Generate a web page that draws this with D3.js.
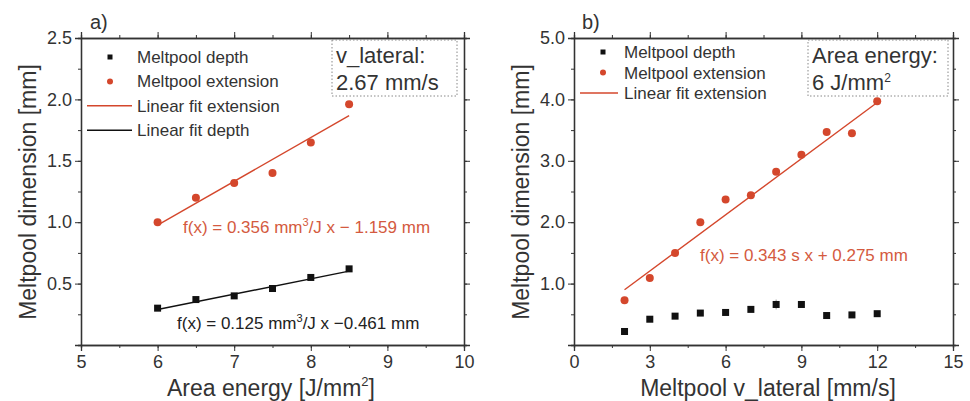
<!DOCTYPE html>
<html lang="en">
<head>
<meta charset="utf-8">
<title>Meltpool dimensions</title>
<script src="https://cdn.jsdelivr.net/npm/d3@7"></script>
<style>
  body { margin: 0; background: #fff; }
  text { font-family: Arial, "Liberation Sans", sans-serif; fill: #333; }
</style>
</head>
<body>
<div id="chart"></div>
<script>
// panel a) area energy sweep
var energyX = [6, 6.5, 7, 7.5, 8, 8.5];
var energyDepth = [0.30, 0.37, 0.40, 0.46, 0.55, 0.62];
var energyExt = [1.00, 1.20, 1.32, 1.40, 1.65, 1.96];
var energyFitExtX = [6, 8.5], energyFitExtY = [0.977, 1.867];
var energyFitDepthX = [6, 8.5], energyFitDepthY = [0.289, 0.602];
var energyXTicks = [5, 6, 7, 8, 9, 10];
var energyYTicks = ["0.5", "1.0", "1.5", "2.0", "2.5"];

// panel b) v_lateral sweep
var speedX = [2, 3, 4, 5, 6, 7, 8, 9, 10, 11, 12];
var speedDepth = [0.22, 0.42, 0.47, 0.52, 0.53, 0.58, 0.66, 0.66, 0.48, 0.49, 0.51];
var speedDepthErr = [0, 0, 0, 0, 0, 0, 0.08, 0, 0, 0, 0];
var speedExt = [0.73, 1.09, 1.50, 2.00, 2.37, 2.44, 2.82, 3.10, 3.47, 3.45, 3.97];
var speedFitExtX = [2, 12], speedFitExtY = [0.90, 3.95];
var speedXTicks = [0, 3, 6, 9, 12, 15];
var speedYTicks = ["1.0", "2.0", "3.0", "4.0", "5.0"];

var red = "#d4472c", redText = "#d45a40", dark = "#111";
var W = 970, H = 401;

var svg = d3.select("#chart").append("svg").attr("width", W).attr("height", H);

function panel(o) {
  var x = d3.scaleLinear().domain(o.xDom).range([o.left, o.right]);
  var y = d3.scaleLinear().domain(o.yDom).range([345, 38]);
  var g = svg.append("g");

  // minor ticks
  var minorX = d3.range(o.xDom[0], o.xDom[1] + 1e-9, o.xMinor);
  var minorY = d3.range(o.yDom[0], o.yDom[1] + 1e-9, o.yMinor);

  g.append("g").attr("transform", "translate(0,345)")
    .call(d3.axisBottom(x).tickValues(minorX).tickSize(3).tickFormat(""));
  g.append("g").attr("transform", "translate(0,38)")
    .call(d3.axisTop(x).tickValues(minorX).tickSize(3).tickFormat(""));
  g.append("g").attr("transform", "translate(" + o.left + ",0)")
    .call(d3.axisLeft(y).tickValues(minorY).tickSize(3).tickFormat(""));
  g.append("g").attr("transform", "translate(" + o.right + ",0)")
    .call(d3.axisRight(y).tickValues(minorY).tickSize(3).tickFormat(""));

  // major ticks
  g.append("g").attr("transform", "translate(0,345)")
    .call(d3.axisBottom(x).tickValues(o.xTicks).tickSize(6).tickPadding(4).tickFormat(d3.format("d")));
  g.append("g").attr("transform", "translate(0,38)")
    .call(d3.axisTop(x).tickValues(o.xTicks).tickSize(6).tickFormat(""));
  g.append("g").attr("transform", "translate(" + o.left + ",0)")
    .call(d3.axisLeft(y).tickValues(o.yTicks.map(Number)).tickSize(6).tickPadding(3)
      .tickFormat(function (d, i) { return o.yTicks[i]; }));
  g.append("g").attr("transform", "translate(" + o.right + ",0)")
    .call(d3.axisRight(y).tickValues(o.yTicks.map(Number)).tickSize(6).tickFormat(""));

  g.selectAll(".domain").attr("stroke", "#333").attr("stroke-width", 1.3);
  g.selectAll(".tick line").attr("stroke", "#333");
  g.selectAll(".tick text").style("font-size", "18px").attr("fill", "#333")
    .style("font-family", "Arial, 'Liberation Sans', sans-serif");

  // fit lines
  var line = d3.line().x(function (d) { return x(d[0]); }).y(function (d) { return y(d[1]); });
  o.fits.forEach(function (f) {
    g.append("path").datum(d3.zip(f.x, f.y)).attr("d", line)
      .attr("fill", "none").attr("stroke", f.color).attr("stroke-width", 1.4);
  });

  // error bars
  if (o.depthErr) {
    g.selectAll(".err").data(d3.zip(o.xs, o.depth, o.depthErr).filter(function (d) { return d[2] > 0; }))
      .enter().append("line")
      .attr("x1", function (d) { return x(d[0]); }).attr("x2", function (d) { return x(d[0]); })
      .attr("y1", function (d) { return y(d[1] - d[2]); }).attr("y2", function (d) { return y(d[1] + d[2]); })
      .attr("stroke", "#999").attr("stroke-width", 1);
  }

  // points
  g.selectAll(".dep").data(d3.zip(o.xs, o.depth)).enter().append("rect")
    .attr("x", function (d) { return x(d[0]) - 3.5; })
    .attr("y", function (d) { return y(d[1]) - 3.5; })
    .attr("width", 7).attr("height", 7).attr("fill", dark);
  g.selectAll(".ext").data(d3.zip(o.xs, o.ext)).enter().append("circle")
    .attr("cx", function (d) { return x(d[0]); })
    .attr("cy", function (d) { return y(d[1]); })
    .attr("r", 4).attr("fill", red);

  // legend
  var L = o.leg;
  o.legend.forEach(function (l, i) {
    var ly = L.y + i * L.step;
    if (l.type == "sq") g.append("rect").attr("x", L.sym - 2.5).attr("y", ly - 2.5).attr("width", 5).attr("height", 5).attr("fill", dark);
    if (l.type == "ci") g.append("circle").attr("cx", L.sym).attr("cy", ly).attr("r", 3).attr("fill", red);
    if (l.type == "ln") g.append("line").attr("x1", L.x1).attr("x2", L.x2).attr("y1", ly).attr("y2", ly)
      .attr("stroke", l.color).attr("stroke-width", 1.4);
    g.append("text").attr("x", L.text).attr("y", ly + 6).style("font-size", "17px").text(l.label);
  });

  // dotted info box
  var B = o.box;
  g.append("rect").attr("x", B.x).attr("y", 40).attr("width", B.w).attr("height", 56)
    .attr("fill", "none").attr("stroke", "#888").attr("stroke-dasharray", "1.5,2");
  g.append("text").attr("x", B.x + 4).attr("y", B.y1).style("font-size", "22px").text(B.lines[0]);
  var t2 = g.append("text").attr("x", B.x + 4).attr("y", B.y2).style("font-size", "22px").text(B.lines[1]);
  if (B.sup) t2.append("tspan").attr("dy", -8).style("font-size", "12px").text(B.sup);

  // equations
  o.eqs.forEach(function (e) {
    var t = g.append("text").attr("x", e.x).attr("y", e.y).style("font-size", "17px").style("fill", e.color).text(e.parts[0]);
    if (e.parts.length > 1) {
      t.append("tspan").attr("dy", -7).style("font-size", "11px").text("3");
      t.append("tspan").attr("dy", 7).text(e.parts[1]);
    }
  });

  // panel label
  g.append("text").attr("x", o.tagX).attr("y", 29).style("font-size", "20px").text(o.tag);

  // axis titles
  var xt = g.append("text").attr("x", o.xTitleX).attr("y", 396).attr("text-anchor", "middle")
    .style("font-size", "23px").text(o.xTitle);
  if (o.xSup) {
    xt.append("tspan").attr("dy", -10).style("font-size", "13px").text("2");
    xt.append("tspan").attr("dy", 10).text("]");
  }
  g.append("text").attr("transform", "translate(" + (o.left - 45) + ",192) rotate(-90)")
    .attr("text-anchor", "middle").style("font-size", "23px").text("Meltpool dimension [mm]");
}

panel({
  left: 81, right: 464, xDom: [5, 10], yDom: [0, 2.5], xMinor: 0.5, yMinor: 0.25,
  xTicks: energyXTicks, yTicks: energyYTicks,
  xs: energyX, depth: energyDepth, ext: energyExt,
  fits: [
    { x: energyFitExtX, y: energyFitExtY, color: red },
    { x: energyFitDepthX, y: energyFitDepthY, color: dark }
  ],
  leg: { y: 57, step: 24.4, sym: 110, x1: 87, x2: 132, text: 137 },
  legend: [
    { type: "sq", label: "Meltpool depth" },
    { type: "ci", label: "Meltpool extension" },
    { type: "ln", color: red, label: "Linear fit extension" },
    { type: "ln", color: dark, label: "Linear fit depth" }
  ],
  box: { x: 332, w: 125, y1: 63, y2: 90, lines: ["v_lateral:", "2.67 mm/s"] },
  eqs: [
    { x: 183, y: 233, color: redText, parts: ["f(x) = 0.356 mm", "/J x \u2212 1.159 mm"] },
    { x: 177, y: 329, color: "#222", parts: ["f(x) = 0.125 mm", "/J x \u22120.461 mm"] }
  ],
  tag: "a)", tagX: 90, xTitle: "Area energy [J/mm", xTitleX: 271, xSup: true
});

panel({
  left: 574, right: 953, xDom: [0, 15], yDom: [0, 5], xMinor: 1.5, yMinor: 0.5,
  xTicks: speedXTicks, yTicks: speedYTicks,
  xs: speedX, depth: speedDepth, depthErr: speedDepthErr, ext: speedExt,
  fits: [{ x: speedFitExtX, y: speedFitExtY, color: red }],
  leg: { y: 52, step: 20.5, sym: 603, x1: 580, x2: 618, text: 624 },
  legend: [
    { type: "sq", label: "Meltpool depth" },
    { type: "ci", label: "Meltpool extension" },
    { type: "ln", color: red, label: "Linear fit extension" }
  ],
  box: { x: 808, w: 140, y1: 63, y2: 90, lines: ["Area energy:", "6 J/mm"], sup: "2" },
  eqs: [
    { x: 700, y: 261, color: redText, parts: ["f(x) = 0.343 s x + 0.275 mm"] }
  ],
  tag: "b)", tagX: 582, xTitle: "Meltpool v_lateral [mm/s]", xTitleX: 768
});
</script>
</body>
</html>
